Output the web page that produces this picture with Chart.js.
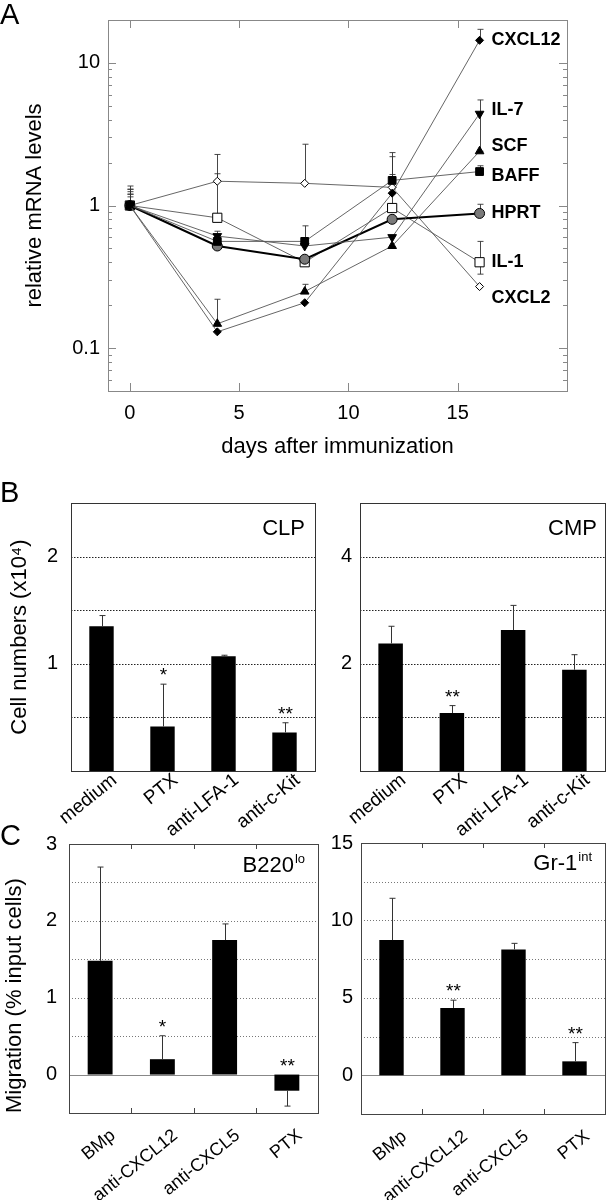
<!DOCTYPE html>
<html>
<head>
<meta charset="utf-8">
<script src="https://cdn.jsdelivr.net/npm/chart.js@4.4.1/dist/chart.umd.min.js"></script>
<style>
  body { margin: 0; background: #fff; }
  #page { position: relative; width: 606px; height: 1200px; overflow: hidden; font-family: 'Liberation Sans', Arial, sans-serif; }
  .pane { position: absolute; }
  .letter { position: absolute; font-size: 29px; line-height: 1; color: #000; }
</style>
</head>
<body>
<div id="page">
  <div class="pane" style="left:0;top:0;width:606px;height:470px"><canvas id="chartA"></canvas></div>
  <div class="pane" style="left:0;top:470px;width:320px;height:380px"><canvas id="chartClp"></canvas></div>
  <div class="pane" style="left:318px;top:470px;width:288px;height:380px"><canvas id="chartCmp"></canvas></div>
  <div class="pane" style="left:0;top:820px;width:322px;height:380px"><canvas id="chartB220"></canvas></div>
  <div class="pane" style="left:318px;top:820px;width:288px;height:380px"><canvas id="chartGr1"></canvas></div>
  <div class="letter" style="left:0;top:0">A</div>
  <div class="letter" style="left:0;top:478px">B</div>
  <div class="letter" style="left:0;top:821px">C</div>
</div>
<script>
// ---- panel A: relative mRNA levels ----
const days = [0, 4, 8, 12, 16];
const dayTicks = [0, 5, 10, 15];
const seriesNames = ['CXCL12', 'IL-7', 'SCF', 'BAFF', 'HPRT', 'IL-1', 'CXCL2'];
const cxcl12 = [1, 0.13, 0.208, 1.22, 14.4];
const il7 = [1, 0.61, 0.52, 0.60, 4.4];
const scf = [1, 0.148, 0.249, 0.52, 2.4];
const baff = [1, 0.56, 0.56, 1.5, 1.73];
const hprt = [1, 0.52, 0.42, 0.80, 0.88];
const il1 = [1, 0.82, 0.40, 0.96, 0.40];
const cxcl2 = [1, 1.48, 1.43, 1.34, 0.27];
// error bar ends (null = no bar)
const cxcl12Hi = [1.25, null, null, 2.2, 17.2];
const il7Hi = [1.3, 0.66, null, null, 5.5];
const il7Lo = [null, null, null, null, 2.4];
const scfHi = [1.2, 0.22, 0.28, null, null];
const baffHi = [1.2, null, 0.72, 1.65, 1.9];
const hprtHi = [1.15, null, null, null, 1.02];
const il1Hi = [1.37, 1.67, null, 1.3, 0.56];
const il1Lo = [null, null, null, null, 0.33];
const cxcl2Hi = [1.3, 2.28, 2.69, 2.35, null];
// level of the names at the right edge
const nameLevels = [14.5, 4.67, 2.62, 1.62, 0.883, 0.40, 0.224];
const logLabels = [0.1, 1, 10];
const logTicks = [0.06, 0.07, 0.08, 0.09, 0.1, 0.2, 0.3, 0.4, 0.5, 0.6, 0.7, 0.8, 0.9,
    1, 2, 3, 4, 5, 6, 7, 8, 9, 10];

// ---- panel B: cell numbers ----
const cellCats = ['medium', 'PTX', 'anti-LFA-1', 'anti-c-Kit'];
const clpVals = [1.35, 0.415, 1.07, 0.36];
const clpErr = [1.45, 0.81, 1.08, 0.45];
const clpStars = ['', '*', '', '**'];
const clpTicks = [1, 2];
const clpGrid = [0.5, 1, 1.5, 2];
const cmpVals = [2.38, 1.08, 2.63, 1.89];
const cmpErr = [2.7, 1.22, 3.09, 2.17];
const cmpStars = ['', '**', '', ''];
const cmpTicks = [2, 4];
const cmpGrid = [1, 2, 3, 4];

// ---- panel C: migration ----
const migCats = ['BMp', 'anti-CXCL12', 'anti-CXCL5', 'PTX'];
const b220Vals = [1.48, 0.2, 1.75, -0.21];
const b220Err = [2.70, 0.505, 1.96, -0.41];
const b220Stars = ['', '*', '', '**'];
const b220Ticks = [0, 1, 2, 3];
const b220Grid = [0.5, 1, 1.5, 2, 2.5];
const grVals = [8.73, 4.35, 8.13, 0.9];
const grErr = [11.43, 4.85, 8.52, 2.11];
const grStars = ['', '**', '', '**'];
const grTicks = [0, 5, 10, 15];
const grGrid = [2.5, 5, 7.5, 10, 12.5];

Chart.defaults.font.family = "'Liberation Sans', Arial, sans-serif";
Chart.defaults.color = '#000';

function seg(ctx, x1, y1, x2, y2) {
    ctx.beginPath();
    ctx.moveTo(x1, y1);
    ctx.lineTo(x2, y2);
    ctx.stroke();
}

function pts(vals) {
    return days.map((d, i) => ({ x: d, y: vals[i] }));
}

function series(name, vals, hi, lo, style) {
    return Object.assign({
        label: name,
        data: pts(vals),
        hi: hi,
        lo: lo,
        borderColor: '#555',
        borderWidth: 0.9,
        pointBorderColor: '#000',
        pointBorderWidth: 1,
        pointBackgroundColor: '#000',
        pointRadius: 4.5,
        pointRotation: 0,
    }, style);
}

// frame, inward ticks, error bars and names for panel A
const frameA = {
    id: 'frameA',
    beforeDatasetsDraw(chart) {
        const { ctx, chartArea: a, scales: { x, y } } = chart;
        ctx.save();
        ctx.strokeStyle = '#888';
        ctx.lineWidth = 1;
        ctx.strokeRect(a.left + 0.5, a.top + 0.5, a.right - a.left, a.bottom - a.top);
        logTicks.forEach(v => {
            const py = Math.round(y.getPixelForValue(v)) + 0.5;
            const len = logLabels.includes(v) ? 8 : 4;
            seg(ctx, a.left, py, a.left + len, py);
            seg(ctx, a.right - len, py, a.right, py);
        });
        dayTicks.forEach(v => {
            const px = Math.round(x.getPixelForValue(v)) + 0.5;
            seg(ctx, px, a.bottom, px, a.bottom - 8);
            seg(ctx, px, a.top, px, a.top + 8);
        });
        ctx.strokeStyle = '#333';
        ctx.lineWidth = 0.9;
        chart.data.datasets.forEach(ds => {
            ds.data.forEach((p, i) => {
                [ds.hi, ds.lo].forEach(arr => {
                    if (!arr || arr[i] == null) return;
                    const px = Math.round(x.getPixelForValue(p.x)) + 0.5;
                    const py0 = y.getPixelForValue(p.y);
                    const py1 = y.getPixelForValue(arr[i]);
                    seg(ctx, px, py0, px, py1);
                    seg(ctx, px - 3, py1, px + 3, py1);
                });
            });
        });
        ctx.restore();
    },
    afterDatasetsDraw(chart) {
        const { ctx, scales: { x, y } } = chart;
        ctx.save();
        ctx.fillStyle = '#000';
        ctx.font = "bold 18px 'Liberation Sans', Arial, sans-serif";
        ctx.textBaseline = 'middle';
        const px = x.getPixelForValue(days[days.length - 1]) + 12;
        seriesNames.forEach((n, i) => {
            ctx.fillText(n, px, y.getPixelForValue(nameLevels[i]));
        });
        ctx.restore();
    }
};

new Chart(document.getElementById('chartA'), {
    type: 'line',
    data: {
        datasets: [
            series('CXCL12', cxcl12, cxcl12Hi, null, { pointStyle: 'rectRot', pointRadius: 4 }),
            series('IL-7', il7, il7Hi, il7Lo, { pointStyle: 'triangle', pointRadius: 5, pointRotation: 180 }),
            series('SCF', scf, scfHi, null, { pointStyle: 'triangle', pointRadius: 5 }),
            series('BAFF', baff, baffHi, null, { pointStyle: 'rect', pointRadius: 5.5 }),
            series('HPRT', hprt, hprtHi, null, { pointStyle: 'circle', pointRadius: 5, borderColor: '#000', borderWidth: 2, pointBackgroundColor: '#7a7a7a' }),
            series('IL-1', il1, il1Hi, il1Lo, { pointStyle: 'rect', pointRadius: 6.5, pointBackgroundColor: '#fff' }),
            series('CXCL2', cxcl2, cxcl2Hi, null, { pointStyle: 'rectRot', pointRadius: 4, pointBackgroundColor: '#fff' }),
        ]
    },
    options: {
        responsive: true,
        maintainAspectRatio: false,
        animation: false,
        layout: { padding: { left: 0, right: 39, top: 5, bottom: 0 } },
        plugins: { legend: { display: false }, tooltip: { enabled: false } },
        elements: { line: { tension: 0 } },
        scales: {
            x: {
                type: 'linear',
                min: -1,
                max: 20,
                grid: { display: false, drawTicks: false },
                border: { display: false },
                afterBuildTicks: s => { s.ticks = dayTicks.map(v => ({ value: v })); },
                ticks: { font: { size: 20 }, padding: 10 },
                title: { display: true, text: 'days after immunization', font: { size: 22 }, padding: { bottom: 10 } },
                afterFit: s => { s.height = 79; },
            },
            y: {
                type: 'logarithmic',
                min: 0.05,
                max: 20,
                grid: { display: false, drawTicks: false },
                border: { display: false },
                afterBuildTicks: s => { s.ticks = logLabels.map(v => ({ value: v })); },
                ticks: { font: { size: 20 }, padding: 8, callback: v => String(v) },
                title: { display: true, text: 'relative mRNA levels', font: { size: 22 }, padding: { top: 22 } },
                afterFit: s => { s.width = 108; },
            },
        },
    },
    plugins: [frameA],
});

// frame, dotted grid, error bars, stars and tag for the bar panels
const barDeco = {
    id: 'barDeco',
    beforeDatasetsDraw(chart) {
        const o = chart.options.plugins.barDeco;
        const { ctx, chartArea: a, scales: { y } } = chart;
        ctx.save();
        ctx.strokeStyle = o.gridColor;
        ctx.lineWidth = 1;
        ctx.setLineDash(o.dash);
        o.grid.forEach(v => {
            const py = Math.round(y.getPixelForValue(v)) + 0.5;
            seg(ctx, a.left, py, a.right, py);
        });
        ctx.setLineDash([]);
        if (o.zero) {
            ctx.strokeStyle = '#888';
            const py = Math.round(y.getPixelForValue(0)) + 0.5;
            seg(ctx, a.left, py, a.right, py);
        }
        ctx.restore();
    },
    afterDatasetsDraw(chart) {
        const o = chart.options.plugins.barDeco;
        const { ctx, chartArea: a, scales: { x, y } } = chart;
        const vals = chart.data.datasets[0].data;
        ctx.save();
        ctx.strokeStyle = o.frameColor;
        ctx.lineWidth = 1;
        ctx.strokeRect(a.left + 0.5, a.top + 0.5, a.right - a.left, a.bottom - a.top);
        if (o.catTicks) {
            const step = (a.right - a.left) / vals.length;
            for (let i = 1; i < vals.length; i++) {
                const px = Math.round(a.left + step * i) + 0.5;
                seg(ctx, px, a.top, px, a.top + 5);
                seg(ctx, px, a.bottom, px, a.bottom - 5);
            }
        }
        ctx.strokeStyle = '#333';
        ctx.fillStyle = '#000';
        ctx.font = "19px 'Liberation Sans', Arial, sans-serif";
        ctx.textAlign = 'center';
        ctx.textBaseline = 'alphabetic';
        vals.forEach((v, i) => {
            const px = Math.round(x.getPixelForValue(i)) + 0.5;
            const py0 = y.getPixelForValue(v);
            const py1 = y.getPixelForValue(o.err[i]);
            seg(ctx, px, py0, px, py1);
            seg(ctx, px - 3, py1, px + 3, py1);
            if (o.stars[i]) {
                const top = Math.min(py0, py1, y.getPixelForValue(0));
                ctx.fillText(o.stars[i], px, top - 3);
            }
        });
        // tag in the top right corner
        ctx.textAlign = 'left';
        ctx.font = "22px 'Liberation Sans', Arial, sans-serif";
        const w1 = ctx.measureText(o.tag).width;
        ctx.font = "13px 'Liberation Sans', Arial, sans-serif";
        const w2 = o.sup ? ctx.measureText(o.sup).width : 0;
        const tx = a.right - o.tagRight - w1 - w2;
        const ty = a.top + o.tagDown;
        ctx.font = "22px 'Liberation Sans', Arial, sans-serif";
        ctx.fillText(o.tag, tx, ty);
        if (o.sup) {
            ctx.font = "13px 'Liberation Sans', Arial, sans-serif";
            ctx.fillText(o.sup, tx + w1 + 1, ty - 9);
        }
        ctx.restore();
    }
};

function barChart(id, o) {
    return new Chart(document.getElementById(id), {
        type: 'bar',
        data: {
            labels: o.cats,
            datasets: [{
                data: o.vals,
                backgroundColor: '#000',
                barPercentage: 0.4,
                categoryPercentage: 1,
            }]
        },
        options: {
            responsive: true,
            maintainAspectRatio: false,
            animation: false,
            layout: { padding: o.pad },
            plugins: { legend: { display: false }, tooltip: { enabled: false }, barDeco: o },
            scales: {
                x: {
                    grid: { display: false, drawTicks: false },
                    border: { display: false },
                    ticks: {
                        font: { size: o.catFont },
                        minRotation: 39,
                        maxRotation: 39,
                        autoSkip: false,
                        padding: o.labelPad,
                        labelOffset: 13,
                    },
                    afterFit: s => { s.height = o.xh; },
                },
                y: {
                    min: o.min,
                    max: o.max,
                    grid: { display: false, drawTicks: false },
                    border: { display: false },
                    afterBuildTicks: s => { s.ticks = o.ticks.map(v => ({ value: v })); },
                    ticks: { font: { size: 20 }, padding: o.tickPad, callback: v => String(v) },
                    title: o.title ? {
                        display: true, text: o.title, align: o.titleAlign,
                        font: { size: 22 }, padding: { top: o.titlePad },
                    } : { display: false },
                    afterFit: s => { s.width = o.yw; },
                },
            },
        },
        plugins: [barDeco],
    });
}

barChart('chartClp', {
    cats: cellCats, vals: clpVals, err: clpErr, stars: clpStars, ticks: clpTicks, grid: clpGrid,
    min: 0, max: 2.5, tag: 'CLP', tagRight: 10, tagDown: 32,
    gridColor: '#222', dash: [1.5, 1.5], frameColor: '#333', zero: false, catTicks: false,
    pad: { left: 0, right: 5, top: 33, bottom: 0 }, yw: 71, xh: 79, labelPad: -2, tickPad: 13, catFont: 19,
    title: 'Cell numbers (x10\u2074)', titleAlign: 'center', titlePad: 7,
});
barChart('chartCmp', {
    cats: cellCats, vals: cmpVals, err: cmpErr, stars: cmpStars, ticks: cmpTicks, grid: cmpGrid,
    min: 0, max: 5, tag: 'CMP', tagRight: 8, tagDown: 32,
    gridColor: '#222', dash: [1.5, 1.5], frameColor: '#333', zero: false, catTicks: false,
    pad: { left: 0, right: 1, top: 33, bottom: 0 }, yw: 42, xh: 79, labelPad: -2, tickPad: 8, catFont: 19,
});
barChart('chartB220', {
    cats: migCats, vals: b220Vals, err: b220Err, stars: b220Stars, ticks: b220Ticks, grid: b220Grid,
    min: -0.5, max: 3, tag: 'B220', sup: 'lo', tagRight: 14, tagDown: 28,
    gridColor: '#777', dash: [1, 2], frameColor: '#444', zero: true, catTicks: true,
    pad: { left: 0, right: 4, top: 22, bottom: 0 }, yw: 69, xh: 87, labelPad: 12, tickPad: 12, catFont: 18,
    title: 'Migration (% input cells)', titleAlign: 'start', titlePad: 2,
});
barChart('chartGr1', {
    cats: migCats, vals: grVals, err: grErr, stars: grStars, ticks: grTicks, grid: grGrid,
    min: -2.5, max: 15, tag: 'Gr-1', sup: 'int', tagRight: 14, tagDown: 27,
    gridColor: '#777', dash: [1, 2], frameColor: '#444', zero: true, catTicks: true,
    pad: { left: 0, right: 1, top: 23, bottom: 0 }, yw: 43, xh: 86, labelPad: 12, tickPad: 8, catFont: 18,
});
</script>
</body>
</html>
